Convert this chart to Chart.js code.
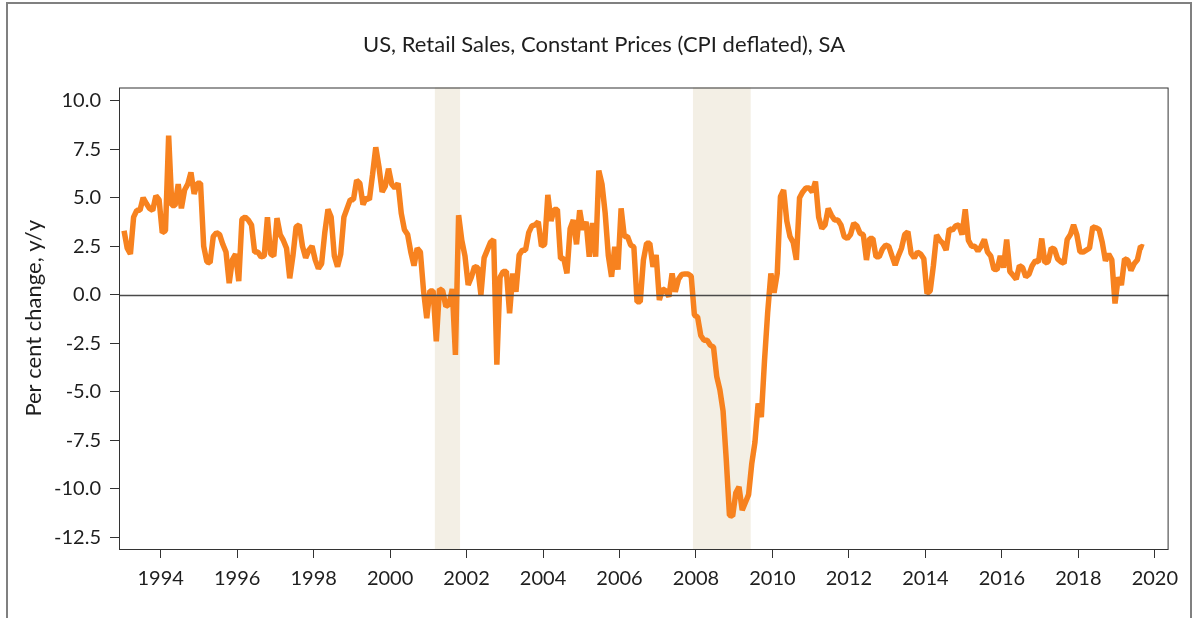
<!DOCTYPE html>
<html>
<head>
<meta charset="utf-8">
<script src="https://cdn.jsdelivr.net/npm/chart.js@4.4.1/dist/chart.umd.min.js"></script>
<style>
  body { margin: 0; background: #fff; }
  #wrap { position: relative; width: 1193px; height: 618px; overflow: hidden; }
  #frame { position: absolute; left: 6px; top: 2px; width: 1182px; height: 700px; border: 2px solid #808080; pointer-events: none; }
</style>
</head>
<body>
<div id="wrap">
  <canvas id="retailChart" width="1193" height="618"></canvas>
  <div id="frame"></div>
</div>
<script>
// Datos mensuales, % a/a, desde enero 1993
const startYear = 1993;
const retailYoY = [
  3.3, 2.4, 2.1, 4.0, 4.35, 4.35, 5.0, 4.7, 4.45, 4.35, 5.1, 4.9,        // 1993
  3.2, 3.3, 8.2, 4.6, 4.6, 5.7, 4.45, 5.4, 5.7, 6.3, 5.2, 5.75,          // 1994
  5.75, 2.5, 1.7, 1.65, 3.0, 3.2, 3.1, 2.6, 2.2, 0.6, 1.8, 2.1,          // 1995
  0.7, 3.9, 4.0, 3.85, 3.6, 2.2, 2.2, 1.95, 2.0, 4.0, 2.1, 2.0,          // 1996
  3.95, 3.1, 2.8, 2.4, 0.85, 2.0, 3.5, 3.6, 2.5, 1.9, 2.3, 2.5,          // 1997
  1.8, 1.35, 1.6, 3.2, 4.4, 4.0, 2.0, 1.45, 2.1, 4.0, 4.45, 4.9,         // 1998
  4.9, 5.9, 5.75, 4.65, 5.0, 4.9, 6.2, 7.6, 6.6, 5.3, 5.6, 6.5,          // 1999
  5.7, 5.5, 5.75, 4.2, 3.35, 3.1, 2.2, 1.5, 2.4, 2.2, 0.2, -1.2,         // 2000
  0.2, 0.2, -2.4, 0.3, 0.2, -0.6, -0.5, 0.3, -3.1, 4.1, 2.8, 2.0,        // 2001
  0.5, 0.9, 1.45, 1.4, 0.0, 1.9, 2.3, 2.7, 2.85, -3.6, 0.9, 1.2,         // 2002
  1.2, -0.95, 1.1, 0.15, 2.05, 2.3, 2.3, 3.2, 3.55, 3.6, 3.76, 2.5,      // 2003
  2.6, 5.15, 3.8, 4.4, 4.4, 1.87, 1.87, 1.1, 3.4, 3.85, 2.6, 4.36,       // 2004
  3.35, 3.76, 1.96, 3.7, 1.96, 6.4, 5.7, 4.2, 2.0, 0.93, 2.47, 1.3,      // 2005
  4.45, 3.0, 3.0, 2.56, 2.47, -0.36, -0.36, 1.79, 2.65, 2.65, 1.44, 2.05, // 2006
  -0.27, 0.3, 0.2, -0.1, 1.1, 0.15, 0.8, 1.05, 1.07, 1.07, 0.95, -1.05,  // 2007
  -1.15, -2.1, -2.34, -2.34, -2.6, -2.7, -4.2, -4.9, -6.0, -8.5, -11.36, -11.4, // 2008
  -10.2, -9.9, -11.1, -10.7, -10.3, -8.7, -7.6, -5.6, -6.3, -3.4, -0.9, 1.1,    // 2009
  0.1, 1.1, 5.05, 5.4, 3.8, 3.0, 2.7, 1.8, 5.0, 5.3, 5.5, 5.5,           // 2010
  5.3, 5.84, 4.0, 3.42, 3.6, 4.45, 4.1, 3.85, 3.85, 3.6, 3.0, 2.9,       // 2011
  3.1, 3.68, 3.55, 3.16, 3.1, 1.79, 2.9, 2.9, 1.96, 1.96, 2.35, 2.56,    // 2012
  2.5, 2.0, 1.53, 2.0, 2.4, 3.1, 3.25, 2.13, 1.9, 2.2, 2.1, 1.85,        // 2013
  0.07, 0.2, 1.5, 3.08, 2.82, 2.65, 2.3, 3.4, 3.33, 3.55, 3.6, 3.1,      // 2014
  4.4, 2.8, 2.5, 2.5, 2.25, 2.5, 2.85, 2.2, 2.0, 1.31, 1.3, 2.0,         // 2015
  1.4, 2.85, 1.2, 1.0, 0.8, 1.5, 1.4, 0.93, 1.05, 1.5, 1.75, 1.7,        // 2016
  2.9, 1.65, 1.7, 2.4, 2.35, 1.85, 1.7, 1.62, 2.85, 3.1, 3.6, 3.1,       // 2017
  2.22, 2.2, 2.3, 2.4, 3.5, 3.45, 3.37, 2.7, 1.75, 2.1, 1.8, -0.45,      // 2018
  0.9, 0.5, 1.85, 1.79, 1.25, 1.6, 1.79, 2.5, 2.44                       // 2019
];
const xTickYears = [1994, 1996, 1998, 2000, 2002, 2004, 2006, 2008, 2010, 2012, 2014, 2016, 2018, 2020];
const yTickValues = [10, 7.5, 5, 2.5, 0, -2.5, -5, -7.5, -10, -12.5];
const recessionStarts = [2001.17, 2007.92];
const recessionEnds = [2001.83, 2009.43];

const chartTitle = 'US, Retail Sales, Constant Prices (CPI deflated), SA';
const yAxisTitle = 'Per cent change, y/y';

const points = retailYoY.map((v, i) => ({ x: startYear + (i + 0.5) / 12, y: v }));
const textColor = '#1e1e1e';
const fontFamily = 'Lato, "Open Sans", sans-serif';

// bandas de recesión, línea de cero, marco y título
const decorPlugin = {
    id: 'decor',
    beforeDatasetsDraw(chart) {
        const { ctx, chartArea, scales } = chart;
        ctx.save();
        ctx.fillStyle = '#f3efe5';
        recessionStarts.forEach((s, i) => {
            const x0 = scales.x.getPixelForValue(s);
            const x1 = scales.x.getPixelForValue(recessionEnds[i]);
            ctx.fillRect(x0, chartArea.top, x1 - x0, chartArea.bottom - chartArea.top);
        });
        ctx.restore();
    },
    afterDatasetsDraw(chart) {
        const { ctx, chartArea, scales } = chart;
        ctx.save();
        const y0 = Math.round(scales.y.getPixelForValue(0)) + 0.5;
        ctx.strokeStyle = '#4a4a4a';
        ctx.lineWidth = 1.5;
        ctx.beginPath();
        ctx.moveTo(chartArea.left, y0);
        ctx.lineTo(chartArea.right, y0);
        ctx.stroke();
        ctx.strokeStyle = '#333';
        ctx.lineWidth = 1;
        ctx.strokeRect(chartArea.left + 0.5, chartArea.top + 0.5,
            chartArea.right - chartArea.left - 1, chartArea.bottom - chartArea.top);
        ctx.fillStyle = textColor;
        ctx.font = '22px ' + fontFamily;
        ctx.textAlign = 'center';
        ctx.textBaseline = 'middle';
        ctx.fillText(chartTitle, 604, 45);
        ctx.restore();
    }
};

const ctx = document.getElementById('retailChart').getContext('2d');
new Chart(ctx, {
    type: 'line',
    data: {
        datasets: [{
            data: points,
            borderColor: '#f7821f',
            borderWidth: 5.5,
            borderJoinStyle: 'bevel',
            pointRadius: 0,
            tension: 0,
            fill: false
        }]
    },
    options: {
        responsive: false,
        animation: false,
        devicePixelRatio: 1,
        layout: { padding: { top: 87.5, right: 24.4, bottom: 0, left: 0 } },
        plugins: {
            legend: { display: false },
            tooltip: { enabled: false },
            title: { display: false }
        },
        scales: {
            x: {
                type: 'linear',
                min: 1992.91,
                max: 2020.36,
                afterBuildTicks: s => { s.ticks = xTickYears.map(v => ({ value: v })); },
                afterFit: s => { s.height = 69; },
                ticks: {
                    autoSkip: false,
                    maxRotation: 0,
                    padding: 9,
                    color: textColor,
                    font: { family: fontFamily, size: 20 },
                    callback: v => String(v)
                },
                grid: { drawOnChartArea: false, tickLength: 9, tickColor: '#333', lineWidth: 1 },
                border: { display: false }
            },
            y: {
                min: -13.1,
                max: 10.68,
                afterBuildTicks: s => { s.ticks = yTickValues.map(v => ({ value: v })); },
                afterFit: s => { s.width = 119; },
                ticks: {
                    padding: 9,
                    color: textColor,
                    font: { family: fontFamily, size: 20 },
                    callback: v => v.toFixed(1)
                },
                grid: { drawOnChartArea: false, tickLength: 9, tickColor: '#333', lineWidth: 1 },
                border: { display: false },
                title: {
                    display: true,
                    text: yAxisTitle,
                    color: textColor,
                    font: { family: fontFamily, size: 22 },
                    padding: { top: 21, bottom: 0 }
                }
            }
        }
    },
    plugins: [decorPlugin]
});
</script>
</body>
</html>
